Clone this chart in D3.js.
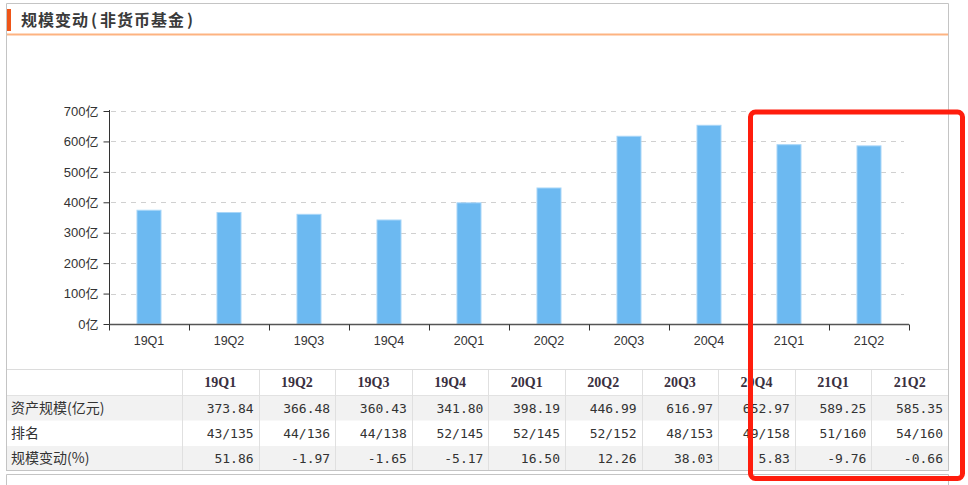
<!DOCTYPE html>
<html><head><meta charset="utf-8">
<script src="https://cdn.jsdelivr.net/npm/d3@7"></script>
<style>
html,body{margin:0;padding:0;background:#fff;}
svg{display:block;}
</style></head>
<body>
<svg id="c" width="968" height="485"></svg>
<script>
const title = "规模变动(非货币基金)";
const categories = ["19Q1","19Q2","19Q3","19Q4","20Q1","20Q2","20Q3","20Q4","21Q1","21Q2"];
const assets = [373.84, 366.48, 360.43, 341.80, 398.19, 446.99, 616.97, 652.97, 589.25, 585.35];
const ranks = ["43/135","44/136","44/138","52/145","52/145","52/152","48/153","49/158","51/160","54/160"];
const changes = [51.86, -1.97, -1.65, -5.17, 16.50, 12.26, 38.03, 5.83, -9.76, -0.66];
const yTicks = [0,100,200,300,400,500,600,700];
const rowLabels = ["资产规模(亿元)","排名","规模变动(%)"];

const svg = d3.select("#c");
const W = 968, H = 485;
const cjk = "'Noto Sans CJK SC','Noto Sans',sans-serif";

svg.append("rect").attr("width",W).attr("height",H).attr("fill","#fff");

// panel borders
const panelL = 6.5, panelR = 948.5;
svg.append("path").attr("d",`M${panelL},470.5 V3.5 H${panelR} V470.5`)
  .attr("fill","none").attr("stroke","#c4c4c4").attr("stroke-width",1);
// next box
svg.append("path").attr("d",`M${panelL},${H} V474.5 H${panelR} V${H}`)
  .attr("fill","none").attr("stroke","#c4c4c4").attr("stroke-width",1);

// title
svg.append("rect").attr("x",7).attr("y",9).attr("width",4).attr("height",22).attr("fill","#ee5518");
svg.append("line").attr("x1",7).attr("x2",948).attr("y1",34.5).attr("y2",34.5)
  .attr("stroke","#fdb381").attr("stroke-width",2);
const tt = svg.append("text").attr("x",21).attr("y",26).attr("font-family",cjk).attr("font-weight","bold")
  .attr("font-size",16).attr("fill","#3a3a3a");
tt.append("tspan").attr("letter-spacing",1).text("规模变动");
tt.append("tspan").attr("dx",2).attr("letter-spacing",3).text("(");
tt.append("tspan").attr("letter-spacing",1).text("非货币基金");
tt.append("tspan").attr("dx",2).text(")");

// scales
const x = d3.scaleBand().domain(categories).range([109,909]).padding(0);
const y = d3.scaleLinear().domain([0,700]).range([324,111]);

// grid
svg.append("g").selectAll("line").data(yTicks.filter(d=>d>0)).join("line")
  .attr("x1",111).attr("x2",904)
  .attr("y1",d=>Math.round(y(d))+0.5).attr("y2",d=>Math.round(y(d))+0.5)
  .attr("stroke","#d0d0d0").attr("stroke-dasharray","5,5");

// bars
const bw = x.bandwidth()*0.3125;
svg.append("g").selectAll("rect").data(categories).join("rect")
  .attr("x",(d)=>x(d)+x.bandwidth()/2-bw/2+0.5)
  .attr("y",(d,i)=>y(assets[i]))
  .attr("width",bw-1)
  .attr("height",(d,i)=>y(0)-y(assets[i]))
  .attr("fill","#6cb9f1").attr("stroke","#a8d6f8").attr("stroke-width",1);

// y axis
const yAxis = svg.append("g").attr("transform","translate(109.5,0)")
  .call(d3.axisLeft(y).tickValues(yTicks).tickFormat(d=>d+"亿").tickSize(6).tickSizeOuter(0));
yAxis.select(".domain").attr("stroke","#333").attr("d","M0,110V328");
yAxis.selectAll(".tick line").attr("stroke","#333");
yAxis.selectAll(".tick text").attr("font-family","'Liberation Sans',"+cjk).attr("font-size",13)
  .attr("fill","#333").attr("x",-11);

// x axis
const xAxis = svg.append("g").attr("transform","translate(0,324.5)")
  .call(d3.axisBottom(x).tickSize(0).tickSizeOuter(0));
xAxis.select(".domain").attr("stroke","#555").attr("stroke-width",1.5).attr("d","M109,0H909");
xAxis.selectAll(".tick text").attr("font-family","'Liberation Sans',sans-serif").attr("font-size",12.5)
  .attr("fill","#333").attr("dy","0.71em").attr("y",12);
const edges = categories.map(c=>x(c)).concat([x.range()[1]]);
xAxis.append("g").selectAll("line").data(edges).join("line")
  .attr("x1",d=>Math.round(d)+0.5).attr("x2",d=>Math.round(d)+0.5)
  .attr("y1",0).attr("y2",6).attr("stroke","#333");

// table
const colX0 = 182, colW = (948-182)/categories.length;
const rowY = [369,395,420.5,446,470.5];
const table = svg.append("g");
[1,3].forEach(r=>{
  table.append("rect").attr("x",7).attr("y",rowY[r]).attr("width",941).attr("height",rowY[r+1]-rowY[r]).attr("fill","#f2f2f2");
});
table.append("line").attr("x1",7).attr("x2",948).attr("y1",369.5).attr("y2",369.5).attr("stroke","#dcdcdc");
table.append("line").attr("x1",7).attr("x2",948).attr("y1",395.5).attr("y2",395.5).attr("stroke","#e2e2e2");
table.append("line").attr("x1",6).attr("x2",949).attr("y1",470.5).attr("y2",470.5).attr("stroke","#c4c4c4");
table.append("g").selectAll("line").data(d3.range(categories.length)).join("line")
  .attr("x1",i=>Math.round(colX0+i*colW)+0.5).attr("x2",i=>Math.round(colX0+i*colW)+0.5)
  .attr("y1",370).attr("y2",470).attr("stroke","#e0e0e0");
table.append("g").selectAll("text").data(categories).join("text")
  .attr("x",(d,i)=>colX0+i*colW+colW/2).attr("y",387)
  .attr("text-anchor","middle").attr("font-family","'Liberation Serif',serif").attr("font-weight","bold")
  .attr("font-size",14).attr("fill","#3a3040").text(d=>d);
table.append("g").selectAll("text").data(rowLabels).join("text")
  .attr("x",11).attr("y",(d,i)=>(rowY[i+1]+rowY[i+2])/2+5)
  .attr("font-family",cjk).attr("font-size",14).attr("fill","#333").text(d=>d);
const rows = [assets.map(v=>v.toFixed(2)), ranks, changes.map(v=>v.toFixed(2))];
rows.forEach((vals,r)=>{
  table.append("g").selectAll("text").data(vals).join("text")
    .attr("x",(d,i)=>colX0+(i+1)*colW-5).attr("y",(rowY[r+1]+rowY[r+2])/2+5)
    .attr("text-anchor","end").attr("font-family","'DejaVu Sans Mono',monospace")
    .attr("font-size",13).attr("fill","#333").text(d=>d);
});

// red highlight box (annotation)
svg.append("rect").attr("x",750.5).attr("y",112).attr("width",212).attr("height",366.5)
  .attr("rx",5).attr("fill","none").attr("stroke","#ff1d0d").attr("stroke-width",5);
</script>
</body></html>
